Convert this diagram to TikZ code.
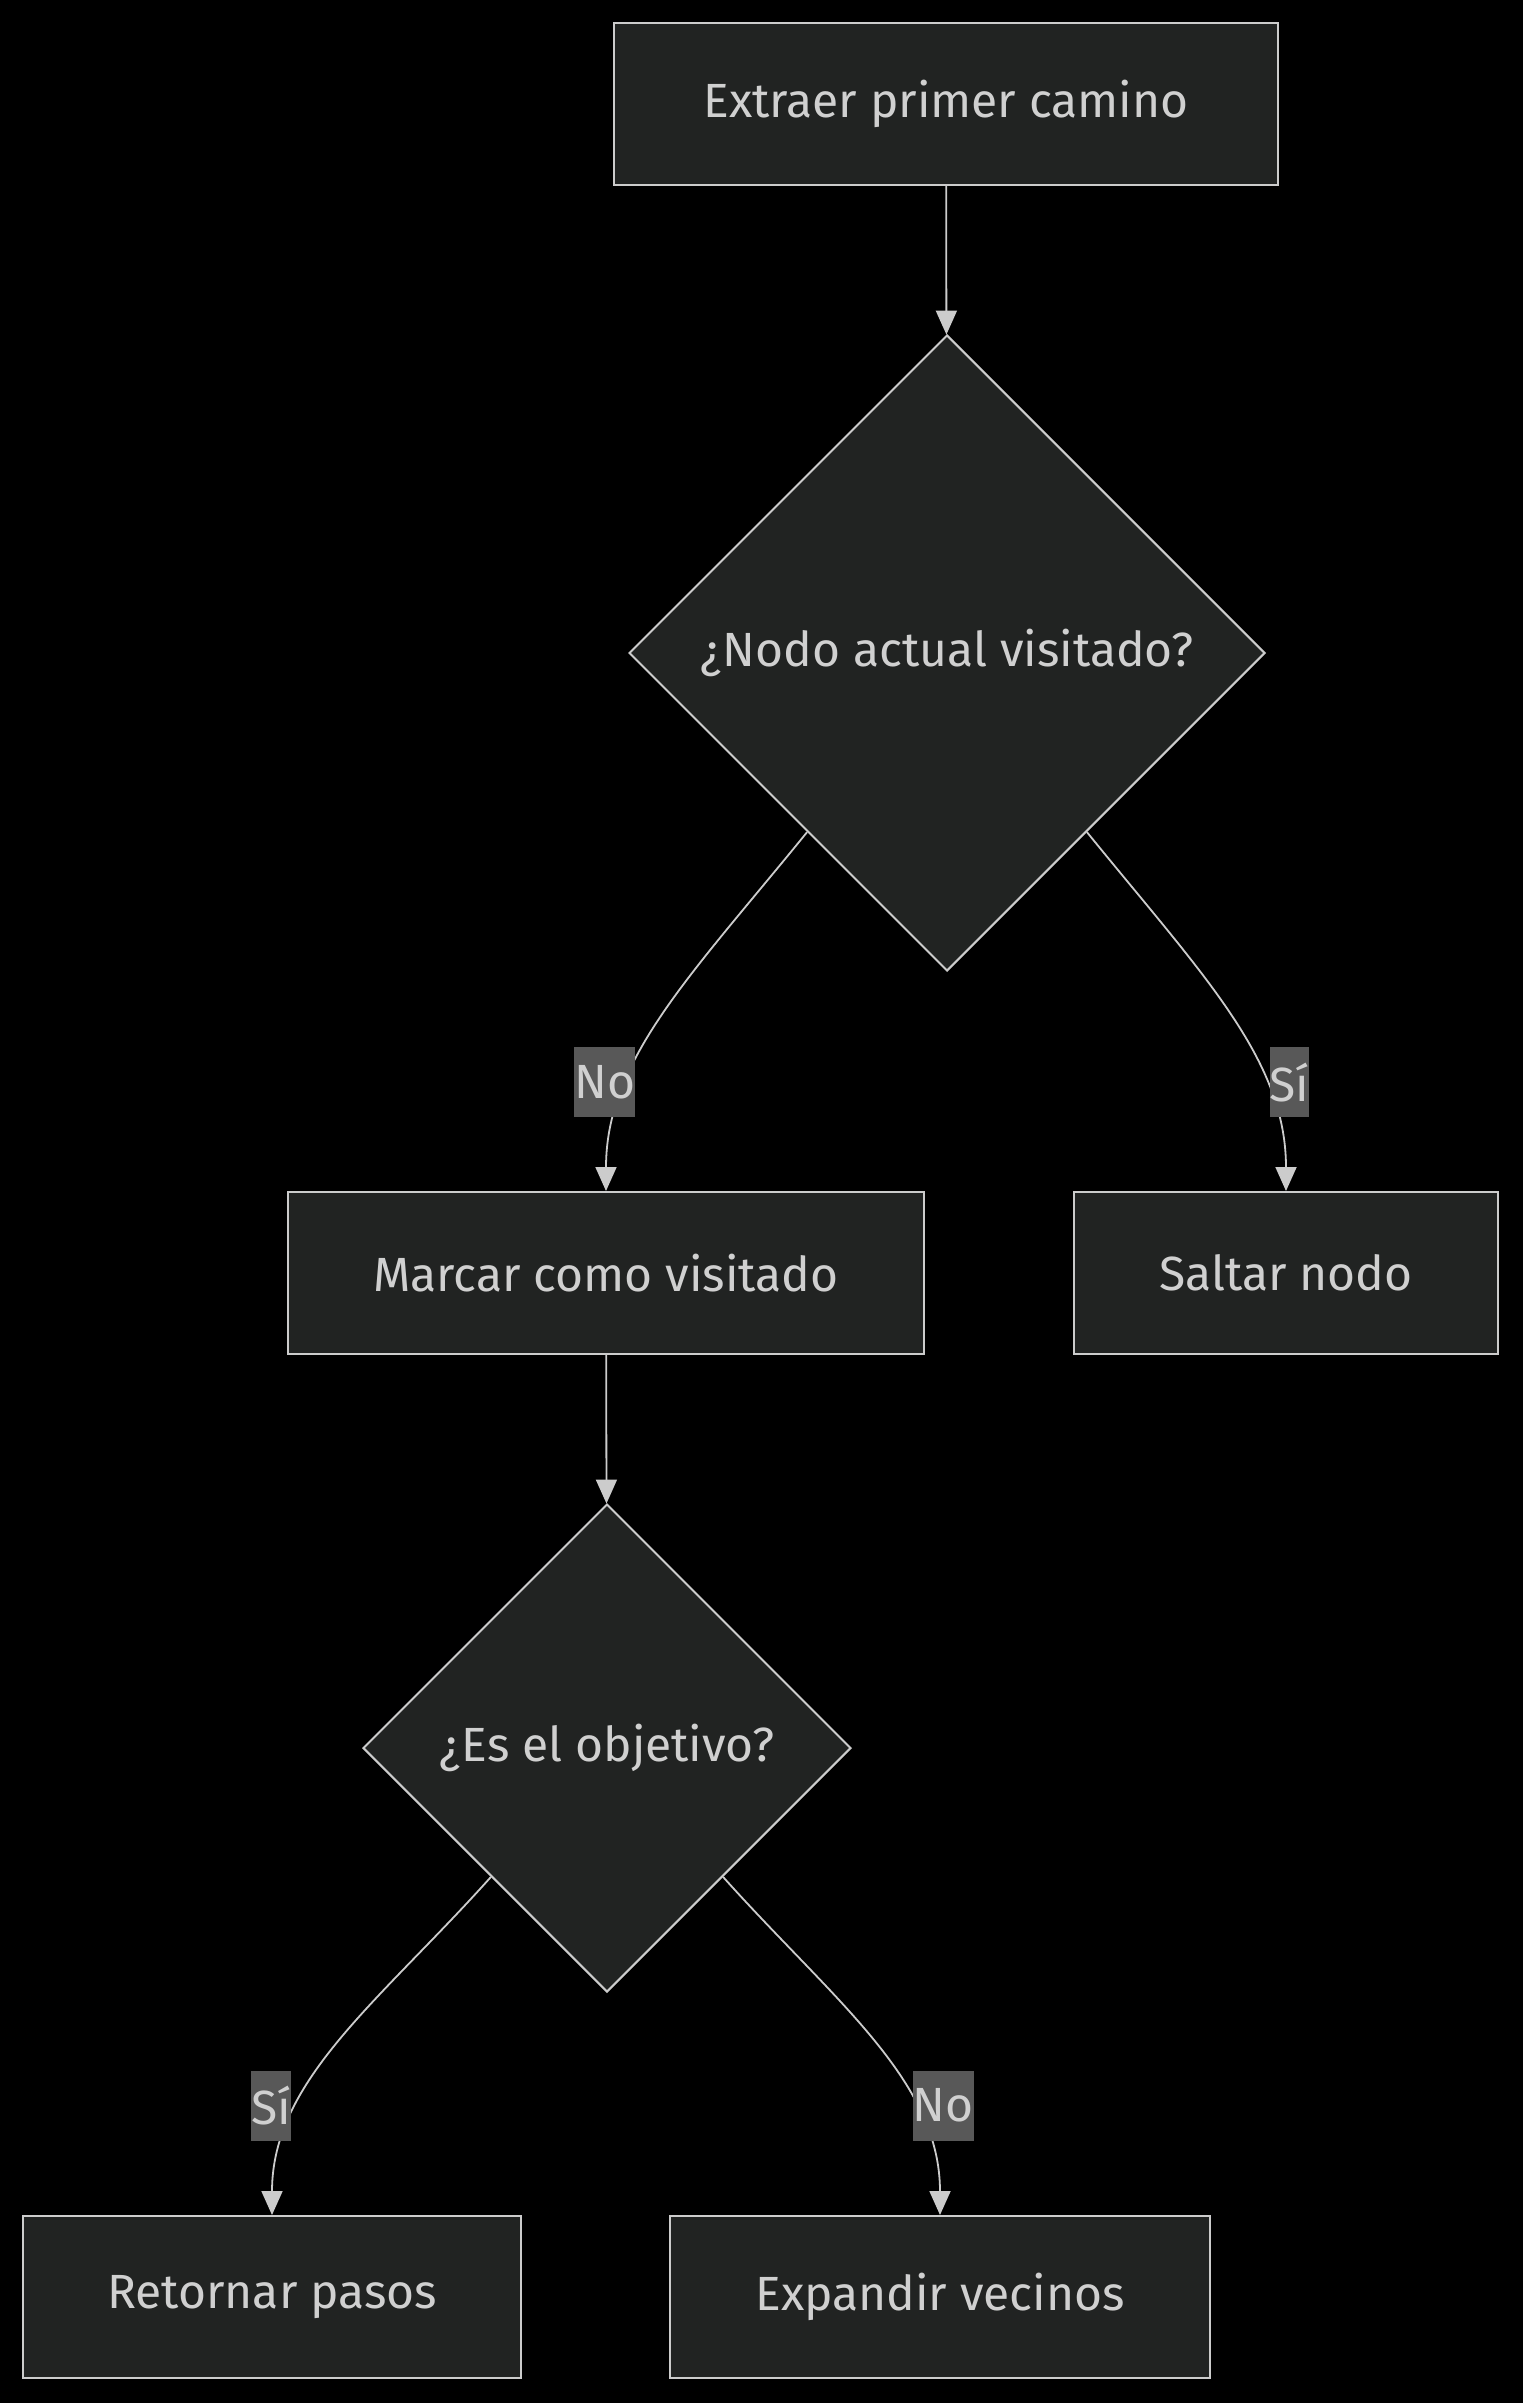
\documentclass[tikz,border=0pt]{standalone}
\usepackage{fontspec}
\setmainfont{Fira Sans}
\usetikzlibrary{shapes.geometric,arrows.meta}
\definecolor{nodefill}{HTML}{212322}
\definecolor{nodeline}{HTML}{CCCCCC}
\definecolor{textgray}{HTML}{D0D0D0}
\definecolor{lblfill}{HTML}{585858}

\begin{document}
\begin{tikzpicture}[x=0.5pt,y=-0.5pt,
  box/.style={draw=nodeline, fill=nodefill, line width=1pt, text=textgray,
    font=\fontsize{24}{28}\selectfont, minimum height=81pt, inner sep=0pt},
  decision/.style={diamond, aspect=1, draw=nodeline, fill=nodefill, line width=1pt,
    text=textgray, font=\fontsize{24}{28}\selectfont, inner sep=0pt},
  flow/.style={draw=nodeline, line width=0.9pt, -{Triangle[length=12pt,width=10.5pt]}},
  lbl/.style={fill=lblfill, text=textgray, font=\fontsize{24}{28}\selectfont,
    inner xsep=0pt, inner ysep=0pt, minimum height=35pt, yshift=3.5pt}]
\fill[black] (0,0) rectangle (1523,2403);

\node[box, minimum width=332pt] (extraer) at (946,104) {Extraer primer camino};
\node[decision, minimum size=318pt] (visitado) at (947,653) {¿Nodo actual visitado?};
\node[box, minimum width=318pt] (marcar) at (606,1273) {Marcar como visitado};
\node[box, minimum width=212pt] (saltar) at (1286,1273) {Saltar nodo};
\node[decision, minimum size=244pt] (objetivo) at (607,1748) {¿Es el objetivo?};
\node[box, minimum width=249pt] (retornar) at (272,2297) {Retornar pasos};
\node[box, minimum width=270pt] (expandir) at (940,2297) {Expandir vecinos};

\draw[flow] (extraer) -- (visitado);
\draw[flow] (visitado.-128) .. controls +(-116,143) and +(0,-132) .. (marcar.north)
  node[lbl, pos=0.72, xshift=-10pt] (no1) {No};
\draw[flow] (visitado.-52) .. controls +(116,143) and +(0,-132) .. (saltar.north)
  node[lbl, pos=0.72, xshift=11pt] (si1) {Sí};
\draw[flow] (marcar) -- (objetivo);
\draw[flow] (objetivo.-132) .. controls +(-111,124) and +(0,-135) .. (retornar.north)
  node[lbl, pos=0.72, xshift=-12pt] (si2) {Sí};
\draw[flow] (objetivo.-48) .. controls +(111,124) and +(0,-135) .. (expandir.north)
  node[lbl, pos=0.72, xshift=13pt] (no2) {No};

\end{tikzpicture}
\end{document}
